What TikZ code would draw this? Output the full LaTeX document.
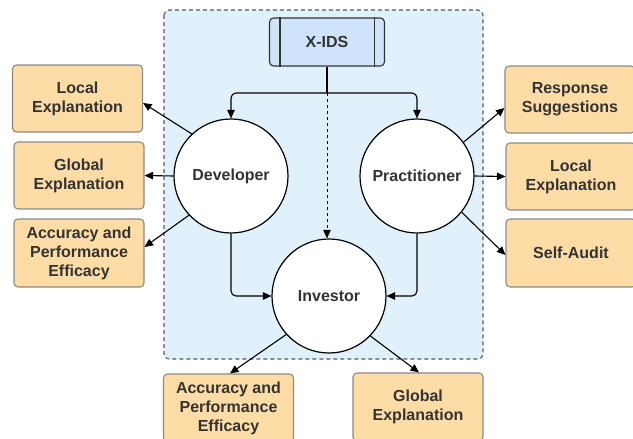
\documentclass[tikz,border=0pt]{standalone}
\usepackage{fontspec}
\setmainfont{Liberation Sans}
\usetikzlibrary{arrows.meta,calc}
\definecolor{boxfill}{HTML}{FEDCA6}
\definecolor{boxline}{HTML}{8A8A8A}
\definecolor{panel}{HTML}{E1F1FB}
\definecolor{panelline}{HTML}{555A60}
\definecolor{idsfill}{HTML}{CFE3FA}
\definecolor{txt}{HTML}{333333}
\tikzset{
  lbl/.style={font=\fontsize{16}{19}\selectfont\bfseries, text=txt},
  outbox/.style={lbl, draw=boxline, fill=boxfill, line width=1.1pt, rounded corners=4pt,
    minimum width=130pt, minimum height=67pt, align=center, inner sep=0pt},
  role/.style={lbl, circle, draw=black, fill=white, line width=1.2pt, minimum size=114pt,
    inner sep=0pt},
  conn/.style={draw=black, line width=1.1pt, -{Triangle[length=8.5pt,width=7.5pt]}},
}
\begin{document}
\begin{tikzpicture}[x=1pt,y=-1pt]
\useasboundingbox (0,0) rectangle (633,439);
\clip (0,0) rectangle (633,439);
% panel
\draw[fill=panel, draw=panelline, line width=1.1pt, dash pattern=on 4pt off 3pt, rounded corners=5pt]
  (164,10) rectangle (483,359);
% X-IDS
\node[lbl, draw=txt, fill=idsfill, line width=1.1pt, rounded corners=4pt, minimum width=115pt,
  minimum height=48pt, inner sep=0pt] (xids) at (327,42) {X-IDS};
\draw[txt, line width=1.1pt] ([xshift=11pt]xids.north west) -- ([xshift=11pt]xids.south west);
\draw[txt, line width=1.1pt] ([xshift=-11pt]xids.north east) -- ([xshift=-11pt]xids.south east);
% roles
\node[role] (dev) at (231,176) {Developer};
\node[role] (pr) at (417,176) {Practitioner};
\node[role] (inv) at (329,296) {Investor};
% outputs
\node[outbox] (le) at (77.5,98.5) {Local\\Explanation};
\node[outbox] (ge) at (79,175.5) {Global\\Explanation};
\node[outbox, minimum height=68pt] (la) at (79,253) {Accuracy and\\Performance\\Efficacy};
\node[outbox] (rs) at (570,99.5) {Response\\Suggestions};
\node[outbox] (rl) at (571,176.5) {Local\\Explanation};
\node[outbox, minimum height=68pt] (ra) at (571,253) {Self-Audit};
\node[outbox, minimum height=68pt] (ba) at (228.5,408) {Accuracy and\\Performance\\Efficacy};
\node[outbox, minimum height=68pt] (bg) at (418,407) {Global\\Explanation};
% X-IDS distribution
\coordinate (split) at (xids.south |- 0,93);
\draw[line width=1.1pt] (xids.south) -- (split);
\draw[conn, rounded corners=5pt] (split) -| (dev.north);
\draw[conn, rounded corners=5pt] (split) -| (pr.north);
\draw[conn, line width=0.9pt, dash pattern=on 3pt off 3pt] (split) -- (split |- inv.north);
% to investor
\draw[conn, rounded corners=5pt] (dev.south) |- (inv.west);
\draw[conn, rounded corners=5pt] (pr.south) |- (inv.east);
% developer outputs
\draw[conn] (dev.133) -- ([yshift=-4.5pt]le.east);
\draw[conn] (dev.west) -- (ge.east);
\draw[conn] (dev.223) -- ([yshift=6pt]la.east);
% practitioner outputs
\draw[conn] (pr.36) -- ([yshift=-8.5pt]rs.west);
\draw[conn] (pr.east) -- (rl.west);
\draw[conn] (pr.321) -- ([yshift=-2pt]ra.west);
% investor outputs
\draw[conn] (inv.222) -- ([xshift=1.5pt]ba.north);
\draw[conn] (inv.316) -- ([xshift=1pt]bg.north);
\end{tikzpicture}
\end{document}
